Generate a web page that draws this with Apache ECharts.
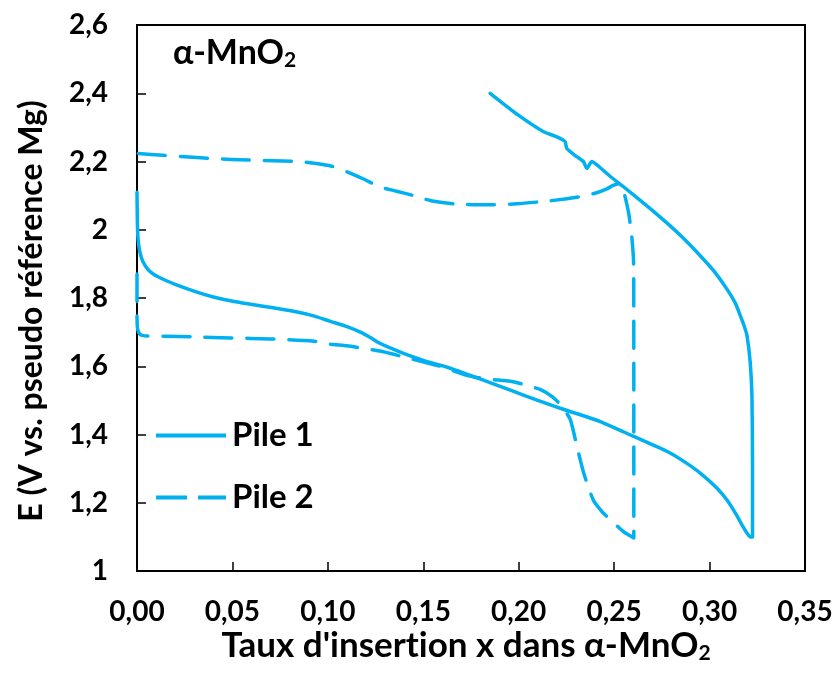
<!DOCTYPE html>
<html>
<head>
<meta charset="utf-8">
<script src="https://cdn.jsdelivr.net/npm/echarts@6/dist/echarts.min.js"></script>
<style>
html,body{margin:0;padding:0;background:#fff;}
#chart{width:836px;height:675px;}
</style>
</head>
<body>
<div id="chart"></div>
<script>
// Pile 1 (solid): discharge then charge
const pile1X = [0, 0.0002, 0.0006, 0.0015, 0.003, 0.006, 0.010, 0.0137, 0.020, 0.031, 0.040, 0.049, 0.058, 0.066, 0.075, 0.084, 0.093, 0.101, 0.110, 0.117, 0.122, 0.127, 0.132, 0.140, 0.150, 0.1625, 0.180, 0.197, 0.210, 0.2233, 0.2427, 0.260, 0.2776, 0.2863, 0.2951, 0.3038, 0.3095, 0.3140, 0.3175, 0.3200, 0.3213,
  0.3225, 0.3225, 0.3222, 0.3213, 0.3196, 0.318, 0.316, 0.3135, 0.3091, 0.3021, 0.2951, 0.2863, 0.2776, 0.2689, 0.2549, 0.248, 0.241, 0.2383, 0.2357, 0.2339, 0.2304, 0.2252, 0.2243, 0.220, 0.2128, 0.200, 0.185];
const pile1E = [2.11, 2.02, 1.97, 1.935, 1.908, 1.882, 1.865, 1.855, 1.840, 1.818, 1.803, 1.792, 1.783, 1.776, 1.768, 1.759, 1.747, 1.732, 1.716, 1.700, 1.685, 1.668, 1.655, 1.637, 1.617, 1.597, 1.562, 1.527, 1.500, 1.474, 1.438, 1.395, 1.351, 1.322, 1.287, 1.243, 1.205, 1.165, 1.130, 1.108, 1.100,
  1.100, 1.318, 1.513, 1.611, 1.690, 1.720, 1.750, 1.785, 1.826, 1.880, 1.924, 1.975, 2.020, 2.062, 2.126, 2.156, 2.19, 2.20, 2.18, 2.20, 2.214, 2.238, 2.258, 2.272, 2.288, 2.335, 2.40];

// Pile 2 (dashed): discharge then charge
const pile2X = [0, 0, 0.0003, 0.0015, 0.004, 0.0137, 0.030, 0.049, 0.070, 0.092, 0.101, 0.110, 0.119, 0.1279, 0.138, 0.1483, 0.1588, 0.1745, 0.185, 0.1955, 0.2023, 0.2112, 0.218, 0.2227, 0.227, 0.2305, 0.234, 0.239, 0.2435, 0.248, 0.255, 0.2603,
  0.2603, 0.2603, 0.2602, 0.2592, 0.2575, 0.2545, 0.2525, 0.2495, 0.2462, 0.240, 0.2322, 0.2165, 0.199, 0.181, 0.166, 0.154, 0.145, 0.136, 0.127, 0.119, 0.110, 0.102, 0.094, 0.084, 0.049, 0.0137, 0];
const pile2E = [1.87, 1.75, 1.71, 1.694, 1.689, 1.688, 1.686, 1.683, 1.680, 1.674, 1.665, 1.660, 1.652, 1.644, 1.630, 1.615, 1.600, 1.571, 1.562, 1.556, 1.547, 1.532, 1.509, 1.482, 1.444, 1.365, 1.288, 1.209, 1.175, 1.150, 1.115, 1.097,
  1.30, 1.60, 1.90, 1.983, 2.052, 2.122, 2.135, 2.13, 2.12, 2.107, 2.097, 2.085, 2.076, 2.073, 2.076, 2.085, 2.100, 2.113, 2.126, 2.148, 2.170, 2.186, 2.194, 2.200, 2.206, 2.218, 2.224];

const xTicks = ['0,00','0,05','0,10','0,15','0,20','0,25','0,30','0,35'];
const yTicks = ['1','1,2','1,4','1,6','1,8','2','2,2','2,4','2,6'];
const seriesNames = ['Pile 1', 'Pile 2'];

const zip = (xs, ys) => xs.map((x, i) => [x, ys[i]]);
const FONT = 'Lato';
const BLUE = '#00B0F0';

const chart = echarts.init(document.getElementById('chart'), null, {renderer: 'canvas'});
chart.setOption({
  animation: false,
  backgroundColor: '#fff',
  grid: {left: 137, right: 31, top: 25, bottom: 104, show: true, borderColor: '#000', borderWidth: 2, backgroundColor: 'transparent'},
  title: {
    text: 'α-MnO{sub|2}',
    left: 168, top: 31,
    textStyle: {
      fontFamily: FONT, fontWeight: 'bold', fontSize: 34, color: '#000',
      rich: {sub: {fontFamily: FONT, fontWeight: 'bold', fontSize: 21, verticalAlign: 'bottom', padding: [14, 0, 0, 0], color: '#000'}}
    }
  },
  legend: {
    orient: 'vertical', left: 151, top: 414,
    itemWidth: 72, itemHeight: 4, itemGap: 29,
    data: [
      {name: seriesNames[0], icon: 'path://M0,0H70V4H0Z'},
      {name: seriesNames[1], icon: 'path://M0,0H31V4H0Z M42,0H70V4H42Z'}
    ],
    textStyle: {fontFamily: FONT, fontWeight: 'bold', fontSize: 33, color: '#000'}
  },
  xAxis: {
    type: 'value', min: 0, max: 0.35, interval: 0.05,
    name: "Taux d'inser{t|t}ion x dans α-MnO{sub|2}", nameLocation: 'middle', nameGap: 57, nameMoveOverlap: false,
    nameTextStyle: {
      fontFamily: FONT, fontWeight: 'bold', fontSize: 35, color: '#000', padding: [0, 10, 0, 0],
      rich: {
        t: {fontFamily: FONT, fontWeight: 'bold', fontSize: 35, color: '#000'},
        sub: {fontFamily: FONT, fontWeight: 'bold', fontSize: 21, color: '#000', padding: [15, 0, 0, 0]}
      }
    },
    axisLine: {onZero: false, lineStyle: {color: '#000', width: 2}},
    axisTick: {inside: true, length: 9, lineStyle: {color: '#000', width: 1.5}},
    axisLabel: {margin: 27, fontFamily: FONT, fontWeight: 'bold', fontSize: 28, color: '#000',
      formatter: (v) => xTicks[Math.round(v / 0.05)]},
    splitLine: {show: false}
  },
  yAxis: {
    type: 'value', min: 1, max: 2.6, interval: 0.2,
    name: 'E (V vs. pseudo référence Mg)', nameLocation: 'middle', nameGap: 89, nameRotate: 90, nameMoveOverlap: false,
    nameTextStyle: {fontFamily: FONT, fontWeight: 'bold', fontSize: 32, color: '#000', padding: [0, 26, 0, 0]},
    axisLine: {onZero: false, lineStyle: {color: '#000', width: 2}},
    axisTick: {inside: true, length: 9, lineStyle: {color: '#000', width: 1.5}},
    axisLabel: {margin: 29, fontFamily: FONT, fontWeight: 'bold', fontSize: 28, color: '#000',
      formatter: (v) => yTicks[Math.round((v - 1) / 0.2)]},
    splitLine: {show: false}
  },
  series: [
    {name: seriesNames[0], type: 'line', data: zip(pile1X, pile1E), showSymbol: false, symbol: 'none', smooth: 0.2,
      lineStyle: {color: BLUE, width: 3.5, cap: 'round', join: 'round'}, itemStyle: {color: BLUE}},
    {name: seriesNames[1], type: 'line', data: zip(pile2X, pile2E), showSymbol: false, symbol: 'none', smooth: 0.2,
      lineStyle: {color: BLUE, width: 3.5, type: [27, 15], cap: 'round', join: 'round'}, itemStyle: {color: BLUE}}
  ]
});
</script>
</body>
</html>
